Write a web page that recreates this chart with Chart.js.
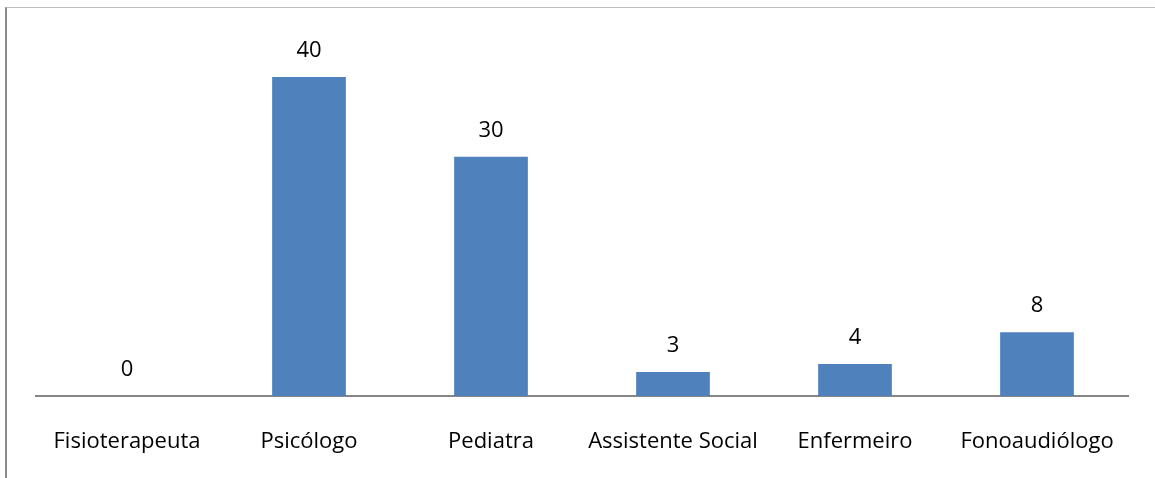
<!DOCTYPE html>
<html>
<head>
<meta charset="utf-8">
<script src="https://cdn.jsdelivr.net/npm/chart.js@4"></script>
<style>
  html, body { margin: 0; padding: 0; background: #fff; }
  #wrap { position: relative; width: 1155px; height: 478px; }
  #frame {
    position: absolute; left: 5px; top: 7px; right: 0; bottom: 0;
    border-top: 1px solid #bdbdbd;
    border-left: 2px solid #8a8a8a;
  }
  canvas { position: absolute; left: 0; top: 0; }
</style>
</head>
<body>
<div id="wrap">
  <div id="frame"></div>
  <canvas id="grafico"></canvas>
</div>
<script>
const categorias = ['Fisioterapeuta', 'Psicólogo', 'Pediatra', 'Assistente Social', 'Enfermeiro', 'Fonoaudiólogo'];
const valores = [0, 40, 30, 3, 4, 8];

const fonte = '"Open Sans", Lato, sans-serif';

// escreve o valor acima de cada barra
const rotulos = {
    id: 'rotulos',
    afterDatasetsDraw(chart) {
        const c = chart.ctx;
        const meta = chart.getDatasetMeta(0);
        c.save();
        c.font = '22px ' + fonte;
        c.fillStyle = '#000';
        c.textAlign = 'center';
        c.textBaseline = 'middle';
        meta.data.forEach((bar, i) => {
            c.fillText(String(valores[i]), bar.x, bar.y - 26);
        });
        c.restore();
    }
};

const ctx = document.getElementById('grafico').getContext('2d');
new Chart(ctx, {
    type: 'bar',
    data: {
        labels: categorias,
        datasets: [{
            data: valores,
            backgroundColor: '#4f81bd',
            borderWidth: 0,
            barPercentage: 1,
            categoryPercentage: 0.405
        }]
    },
    options: {
        responsive: true,
        maintainAspectRatio: false,
        animation: false,
        layout: { padding: { left: 36, right: 27, top: 37, bottom: 0 } },
        plugins: {
            legend: { display: false },
            tooltip: { enabled: false }
        },
        scales: {
            x: {
                grid: { display: false, drawTicks: false },
                border: { display: true, color: '#868686', width: 2 },
                ticks: {
                    color: '#000',
                    font: { family: fonte, size: 22 },
                    padding: 33,
                    maxRotation: 0,
                    autoSkip: false
                },
                afterFit(scale) { scale.height = 82; }
            },
            y: {
                display: false,
                min: 0,
                max: 45
            }
        }
    },
    plugins: [rotulos]
});
</script>
</body>
</html>
